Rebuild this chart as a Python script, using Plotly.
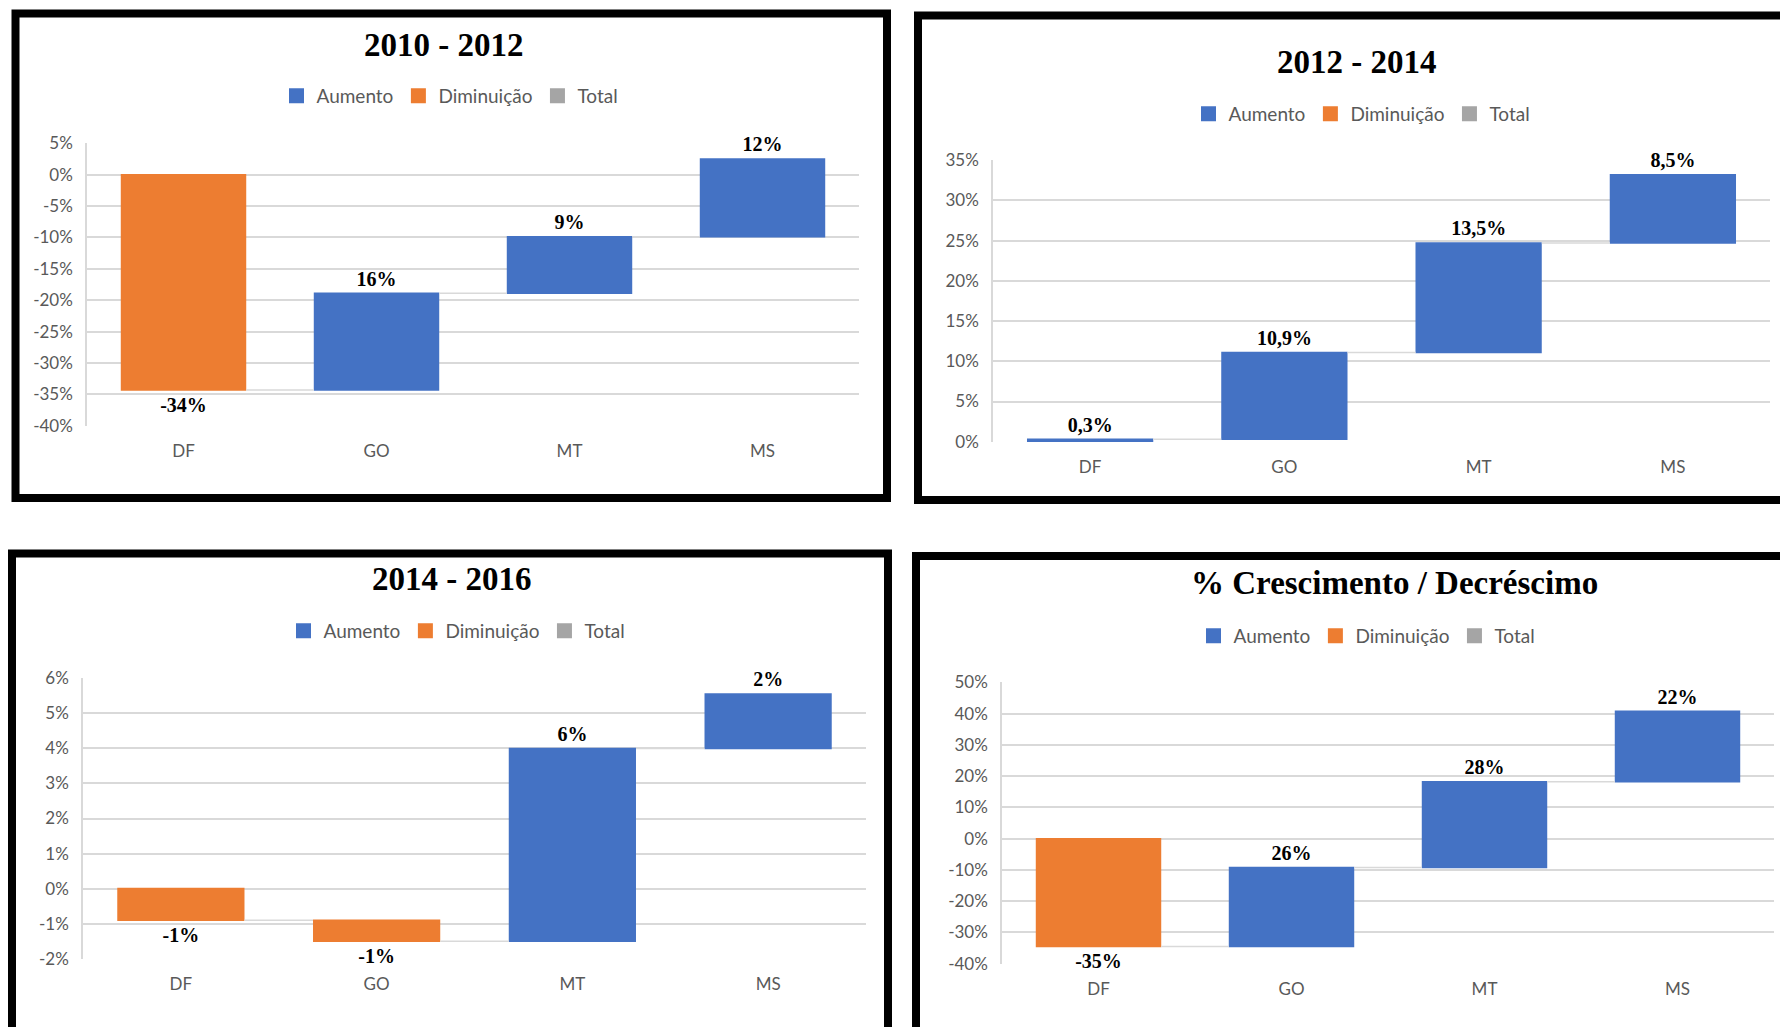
import plotly.graph_objects as go

W, H = 1780, 1027

categories = ["DF", "GO", "MT", "MS"]
legend_names = ["Aumento", "Diminuição", "Total"]
legend_colors = ["#4472C4", "#ED7D31", "#A5A5A5"]

titles = ["2010 - 2012", "2012 - 2014", "2014 - 2016", "% Crescimento / Decréscimo"]

values_1 = [-34.3, 15.4, 9.0, 12.4]
labels_1 = ["-34%", "16%", "9%", "12%"]
ticks_1 = [5, 0, -5, -10, -15, -20, -25, -30, -35, -40]
ticktext_1 = ["5%", "0%", "-5%", "-10%", "-15%", "-20%", "-25%", "-30%", "-35%", "-40%"]

values_2 = [0.3, 10.8, 13.6, 8.5]
labels_2 = ["0,3%", "10,9%", "13,5%", "8,5%"]
ticks_2 = [35, 30, 25, 20, 15, 10, 5, 0]
ticktext_2 = ["35%", "30%", "25%", "20%", "15%", "10%", "5%", "0%"]

values_3 = [-0.9, -0.6, 5.5, 1.55]
labels_3 = ["-1%", "-1%", "6%", "2%"]
ticks_3 = [6, 5, 4, 3, 2, 1, 0, -1, -2]
ticktext_3 = ["6%", "5%", "4%", "3%", "2%", "1%", "0%", "-1%", "-2%"]

values_4 = [-34.5, 25.3, 27.4, 22.5]
labels_4 = ["-35%", "26%", "28%", "22%"]
ticks_4 = [50, 40, 30, 20, 10, 0, -10, -20, -30, -40]
ticktext_4 = ["50%", "40%", "30%", "20%", "10%", "0%", "-10%", "-20%", "-30%", "-40%"]

panels = [
    dict(values=values_1, labels=labels_1, ticks=ticks_1, ticktext=ticktext_1,
         plot=(87, 859, 143, 426), border=(15.5, 887, 13.5, 498),
         title_xy=(444, 45), legend_xy=(450, 96)),
    dict(values=values_2, labels=labels_2, ticks=ticks_2, ticktext=ticktext_2,
         plot=(993, 1770, 160, 442), border=(918, 1800, 15.5, 500),
         title_xy=(1357, 62), legend_xy=(1362, 114)),
    dict(values=values_3, labels=labels_3, ticks=ticks_3, ticktext=ticktext_3,
         plot=(83, 866, 678, 959), border=(12, 888, 553.5, 1050),
         title_xy=(452, 579), legend_xy=(457, 631)),
    dict(values=values_4, labels=labels_4, ticks=ticks_4, ticktext=ticktext_4,
         plot=(1002, 1774, 682, 964), border=(916, 1800, 556, 1050),
         title_xy=(1394, 583), legend_xy=(1367, 636)),
]

GRID = "#D9D9D9"
TICKCOL = "#595959"
SANS = "Lato, 'Open Sans', sans-serif"
SERIF = "'Liberation Serif', 'Times New Roman', serif"

fig = go.Figure()
layout = dict(
    width=W, height=H, margin=dict(l=0, r=0, t=0, b=0, pad=0, autoexpand=False),
    paper_bgcolor="white", plot_bgcolor="white", showlegend=True,
    shapes=[], annotations=[],
)

def px(x):
    return x / W

def py(y):
    return 1 - y / H

for i, p in enumerate(panels):
    n = "" if i == 0 else str(i + 1)
    xa, ya = "x" + n, "y" + n
    lg = "legend" + n
    x0, x1, y0, y1 = p["plot"]
    ymin, ymax = min(p["ticks"]), max(p["ticks"])
    fig.add_trace(go.Waterfall(
        x=categories, y=p["values"], measure=["relative"] * len(categories),
        text=p["labels"], texttemplate="<b>%{text}</b>", textposition="outside",
        textfont=dict(family=SERIF, size=20, color="black"),
        constraintext="none", cliponaxis=False,
        increasing=dict(marker=dict(color=legend_colors[0])),
        decreasing=dict(marker=dict(color=legend_colors[1])),
        totals=dict(marker=dict(color=legend_colors[2])),
        connector=dict(line=dict(color=GRID, width=1.5)),
        width=0.65, xaxis=xa, yaxis=ya, showlegend=False, hoverinfo="skip",
    ))
    for name, col in zip(legend_names, legend_colors):
        fig.add_trace(go.Scatter(x=[None], y=[None], name=name, mode="markers",
                                 marker=dict(symbol="square", size=15, color=col),
                                 xaxis=xa, yaxis=ya, legend=lg, showlegend=True))
    layout["xaxis" + n] = dict(
        domain=[px(x0), px(x1)], anchor=ya, type="category", range=[-0.5, 3.5],
        showgrid=False, showline=False, zeroline=False, ticks="", automargin=False,
        tickfont=dict(family=SANS, size=17, color=TICKCOL), ticklabelstandoff=13,
    )
    layout["yaxis" + n] = dict(
        domain=[py(y1), py(y0)], anchor=xa,
        range=[ymin - 0.001 * (ymax - ymin), ymax + 0.001 * (ymax - ymin)],
        tickvals=p["ticks"], ticktext=p["ticktext"], automargin=False,
        showgrid=True, gridcolor=GRID, gridwidth=1.5, zeroline=False,
        showline=True, linecolor=GRID, linewidth=1.5, ticks="",
        tickfont=dict(family=SANS, size=17, color=TICKCOL), ticklabelstandoff=9,
    )
    lx, ly = p["legend_xy"]
    layout[lg] = dict(
        orientation="h", x=px(lx), y=py(ly), xanchor="center", yanchor="middle",
        font=dict(family=SANS, size=19, color=TICKCOL), bgcolor="rgba(0,0,0,0)",
        itemclick=False, itemdoubleclick=False,
    )
    tx, ty = p["title_xy"]
    layout["annotations"].append(dict(
        text="<b>%s</b>" % titles[i], x=px(tx), y=py(ty), xref="paper", yref="paper",
        xanchor="center", yanchor="middle", showarrow=False,
        font=dict(family=SERIF, size=33, color="black"),
    ))
    bx0, bx1, by0, by1 = p["border"]
    layout["shapes"].append(dict(
        type="rect", xref="paper", yref="paper",
        x0=px(bx0), x1=px(bx1), y0=py(by1), y1=py(by0),
        line=dict(color="black", width=8), fillcolor="rgba(0,0,0,0)", layer="above",
    ))

fig.update_layout(**layout)
fig.write_html("out.html")
